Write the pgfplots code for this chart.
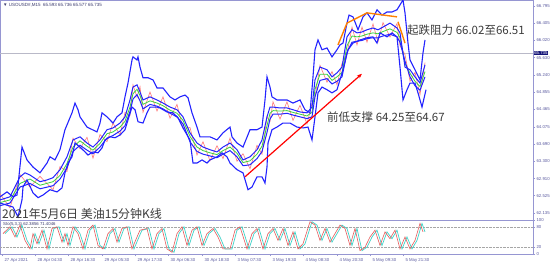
\documentclass[border=0pt]{standalone}
\usepackage{pgfplots}
\pgfplotsset{compat=1.18}
\usepackage{pgfplotstable}
\usepackage{fontspec}
\setmainfont{Liberation Sans}
\newfontfamily\cjk{Noto Sans CJK SC}
\usetikzlibrary{arrows.meta}
\definecolor{lav}{RGB}{150,150,210}
\definecolor{tickc}{RGB}{90,90,160}
\definecolor{bandblue}{RGB}{35,35,255}
\definecolor{magreen}{RGB}{60,210,60}
\definecolor{candle}{RGB}{255,120,120}
\definecolor{stored}{RGB}{230,90,90}
\definecolor{stocyan}{RGB}{60,210,200}
\definecolor{annot}{RGB}{60,60,60}
\definecolor{gline}{RGB}{185,185,200}

\pgfplotstableread{
x p
0 62.50
7 62.61
13 62.50
17 62.54
22 63.62
27 63.33
33 63.17
40 63.04
47 63.26
50 63.40
55 63.33
60 63.56
65 64.01
72 64.39
75 64.61
78 64.46
80 64.30
87 64.07
97 63.96
100 64.16
102 64.39
107 64.30
113 64.16
117 64.30
122 64.39
125 64.75
128 65.06
132 65.58
133 65.65
137 65.58
138 65.65
140 65.42
143 65.18
148 65.18
153 65.13
157 64.95
163 64.95
170 64.75
175 64.68
180 64.75
185 64.79
188 64.73
192 64.39
197 64.07
200 63.85
210 63.85
217 63.78
223 63.94
230 64.07
232 63.85
237 63.71
243 63.62
250 64.01
257 64.01
262 64.07
265 64.68
267 65.20
270 64.97
272 64.75
277 64.68
287 64.68
293 64.61
300 64.68
305 64.46
310 64.39
313 65.20
315 65.81
318 66.03
322 65.81
327 65.85
332 65.65
337 65.81
340 65.92
343 65.96
347 66.41
349 66.59
353 66.55
358 66.26
363 66.55
367 66.64
372 66.48
377 66.71
382 66.59
387 66.66
392 66.66
397 66.71
400 66.82
403 66.93
405 66.64
408 65.96
410 65.58
415 65.36
420 65.13
423 65.74
425 66.03
}\upperband

\pgfplotstableread{
x p
0 62.36
13 62.27
18 62.05
22 62.43
23 62.72
27 62.88
33 62.59
38 62.48
43 62.54
50 62.66
57 62.61
62 62.70
65 63.04
68 63.26
72 63.40
75 63.71
80 63.62
85 63.51
88 63.44
93 63.51
98 63.49
102 63.60
105 63.78
110 63.85
115 63.83
120 63.89
125 64.01
128 64.23
132 64.52
135 64.46
138 64.19
143 64.16
147 64.39
150 64.52
157 64.52
160 64.50
167 64.41
173 64.39
178 64.28
183 64.05
190 63.78
193 63.26
197 63.26
202 63.33
207 63.26
210 63.33
217 63.40
222 63.49
227 63.40
230 63.26
237 63.11
243 63.04
248 62.66
252 62.72
257 62.95
262 62.95
265 62.81
267 63.17
268 63.71
272 64.01
277 64.07
283 64.16
290 64.16
297 64.07
303 64.05
308 64.07
312 63.78
315 64.30
318 64.84
322 64.97
327 64.91
332 64.84
337 64.91
343 65.36
348 65.81
353 65.96
360 66.03
367 66.08
373 66.10
377 65.96
380 66.19
387 66.10
392 66.19
397 66.10
400 65.42
403 64.68
407 64.91
410 65.06
415 65.06
418 64.84
422 64.52
426 64.91
}\lowerband

\pgfplotstableread{
x p
0 62.43
10 62.50
20 62.95
25 63.04
30 62.99
40 62.84
47 62.88
53 62.93
60 63.11
67 63.40
73 63.78
80 63.85
87 63.71
93 63.62
100 63.78
107 64.01
113 64.05
120 64.16
125 64.30
130 64.68
133 64.97
137 65.02
140 64.86
143 64.68
150 64.75
157 64.68
163 64.61
170 64.52
177 64.46
183 64.30
190 63.94
197 63.71
203 63.62
210 63.56
217 63.51
223 63.62
230 63.71
237 63.56
243 63.33
250 63.40
257 63.56
262 63.78
267 64.30
270 64.52
273 64.52
280 64.50
287 64.50
293 64.46
300 64.41
307 64.39
312 64.52
315 65.13
320 65.42
327 65.36
332 65.20
337 65.29
342 65.42
347 66.10
352 66.26
357 66.19
362 66.21
367 66.26
373 66.30
378 66.26
383 66.32
390 66.41
397 66.30
400 66.19
405 65.42
410 65.36
415 65.20
420 65.06
425 65.47
}\innerup

\pgfplotstableread{
x p g c
0 62.30 62.37 62.57
10 62.36 62.43 62.25
20 62.72 62.80 63.00
30 62.80 62.90 62.72
40 62.68 62.76 62.96
53 62.75 62.84 62.66
60 62.90 62.98 63.18
67 63.15 63.25 63.07
73 63.52 63.62 63.82
80 63.66 63.76 63.58
87 63.55 63.64 63.84
93 63.47 63.55 63.37
100 63.62 63.70 63.90
107 63.82 63.92 63.74
113 63.88 63.96 64.16
120 63.98 64.07 63.89
125 64.10 64.20 64.40
130 64.42 64.52 64.34
133 64.70 64.82 65.02
137 64.80 64.92 64.74
140 64.66 64.78 64.98
143 64.48 64.58 64.40
150 64.58 64.66 64.86
157 64.54 64.61 64.43
163 64.48 64.55 64.75
170 64.38 64.45 64.27
177 64.30 64.38 64.58
183 64.14 64.22 64.04
190 63.74 63.86 64.06
197 63.52 63.62 63.44
203 63.46 63.54 63.74
210 63.42 63.49 63.31
217 63.38 63.45 63.65
223 63.46 63.54 63.36
230 63.54 63.62 63.82
237 63.40 63.48 63.30
243 63.20 63.27 63.47
250 63.22 63.31 63.13
257 63.36 63.46 63.66
262 63.52 63.64 63.46
267 63.95 64.10 64.30
270 64.25 64.38 64.20
273 64.36 64.44 64.64
280 64.36 64.43 64.25
287 64.38 64.44 64.64
293 64.34 64.40 64.22
300 64.30 64.36 64.56
307 64.26 64.32 64.14
312 64.30 64.40 64.60
315 64.75 64.92 64.74
320 65.12 65.26 65.46
327 65.16 65.26 65.08
332 65.04 65.12 65.32
337 65.10 65.20 65.02
342 65.20 65.30 65.50
347 65.75 65.90 65.72
352 65.98 66.12 66.32
357 66.00 66.10 65.92
362 66.02 66.12 66.32
367 66.06 66.16 65.98
373 66.08 66.19 66.39
378 66.08 66.17 65.99
383 66.12 66.22 66.42
390 66.16 66.28 66.10
397 66.10 66.20 66.40
400 65.98 66.08 65.90
405 65.55 65.50 65.70
410 65.20 65.28 65.10
415 65.00 65.10 65.30
420 64.90 64.98 64.80
425 65.20 65.32 65.52
}\innerlow

\pgfplotstableread{
x s xc
3 60 5
10 80 12
15 50 17
20 85 22
25 40 27
30 15 32
33 60 35
37 30 39
42 70 44
47 15 49
52 75 54
57 80 59
62 35 64
65 60 67
68 25 70
73 80 75
78 60 80
83 15 85
88 70 90
93 85 95
98 25 100
103 15 105
108 60 110
113 75 115
117 35 119
122 75 124
127 80 129
132 15 134
137 50 139
140 70 142
147 75 149
152 15 154
157 60 159
162 75 164
167 15 169
172 5 174
177 60 179
182 80 184
187 25 189
192 70 194
197 80 199
202 25 204
207 60 209
213 75 215
218 50 220
223 15 225
230 15 232
235 70 237
240 80 242
247 15 249
252 60 254
257 75 259
263 15 265
268 60 270
273 75 275
278 40 280
283 75 285
288 25 290
293 65 295
298 15 300
303 30 305
310 95 312
315 85 317
320 40 322
325 75 327
330 35 332
335 60 337
340 85 342
345 75 347
350 25 352
355 75 357
360 10 362
365 20 367
370 50 372
375 70 377
380 25 382
385 65 387
390 45 392
395 70 397
400 15 402
405 50 407
410 15 412
415 40 417
420 90 422
423 65 425
}\stoch

\begin{document}
\begin{tikzpicture}[x=1pt,y=1pt]
\path[use as bounding box, fill=white] (0,0) rectangle (554,265);

\begin{axis}[
  at={(0pt,45pt)}, anchor=south west,
  scale only axis, width=533pt, height=220pt,
  xmin=0, xmax=533, ymin=61.978, ymax=66.93,
  axis line style={lav, line width=0.8pt},
  xtick=\empty,
  ytick={62.135,62.525,62.910,63.300,63.690,64.075,64.465,64.855,65.240,65.630,66.020,66.405,66.795},
  yticklabels={62.135,62.525,62.910,63.300,63.690,64.075,64.465,64.855,65.240,65.630,66.020,66.405,66.795},
  yticklabel pos=right,
  ytick align=outside, ytick pos=right,
  major tick length=2pt,
  tick style={lav, line width=0.5pt},
  yticklabel style={font=\fontsize{4.3}{5}\selectfont, text=tickc, xshift=-2pt},
  clip=true,
]
\addplot[gline, line width=0.6pt] coordinates {(0,65.735) (533,65.735)};
\addplot[candle, line width=0.6pt] table[x=x, y=c] {\innerlow};
\addplot[magreen, line width=0.8pt] table[x=x, y=g] {\innerlow};
\addplot[bandblue, line width=1pt] table[x=x, y=p] {\innerlow};
\addplot[bandblue, line width=1pt] table[x=x, y=p] {\innerup};
\addplot[bandblue, line width=1.1pt] table[x=x, y=p] {\upperband};
\addplot[bandblue, line width=1.1pt] table[x=x, y=p] {\lowerband};
\addplot[orange, line width=1.4pt] coordinates {(338,65.92) (347,66.41) (367,66.64) (397,66.55)};
\addplot[orange, line width=1.4pt] coordinates {(398,66.44) (405,65.96)};
\addplot[red, line width=1.2pt, -{Stealth[length=5pt,width=4pt]}] coordinates {(245,62.95) (362,65.27)};
\end{axis}

\begin{axis}[
  at={(0pt,11pt)}, anchor=south west,
  scale only axis, width=533pt, height=34pt,
  xmin=0, xmax=533, ymin=0, ymax=100,
  axis line style={lav, line width=0.8pt},
  ytick={0,20,80,100},
  yticklabels={0,20,80,100},
  yticklabel pos=right, ytick pos=right,
  xtick={2,35,68,102,135,168,202,235,270,303,337,370,403},
  xticklabels={27 Apr 2021,28 Apr 04:30,28 Apr 16:30,29 Apr 05:30,29 Apr 17:30,30 Apr 06:30,30 Apr 18:30,3 May 07:30,3 May 19:30,4 May 08:30,4 May 20:30,5 May 09:30,5 May 21:30},
  xtick pos=bottom, tick align=outside,
  major tick length=2pt,
  tick style={lav, line width=0.5pt},
  xticklabel style={font=\fontsize{4.3}{5}\selectfont, text=tickc, anchor=north west, xshift=-1pt, yshift=1pt},
  yticklabel style={font=\fontsize{4.3}{5}\selectfont, text=tickc, xshift=-2pt},
  clip=true,
]
\addplot[gray!70, densely dotted, line width=0.4pt] coordinates {(0,80) (533,80)};
\addplot[gray!70, densely dotted, line width=0.4pt] coordinates {(0,20) (533,20)};
\addplot[stocyan, line width=0.7pt] table[x=xc, y=s] {\stoch};
\addplot[stored, line width=0.6pt] table[x=x, y=s] {\stoch};
\end{axis}

% price marker box
\node[fill={rgb,255:red,20;green,20;blue,120}, text=white, inner sep=0.6pt, anchor=west,
  font=\fontsize{4.3}{5}\selectfont] at (533.5,212) {65.735};

% texts
\node[anchor=west, inner sep=0pt, font=\fontsize{4.5}{5}\selectfont, text={rgb,255:red,60;green,60;blue,110}] at (3,260) {▼ USOUSD\#,M15\ \ 65.593 65.736 65.577 65.735};
\node[anchor=west, inner sep=0pt, font=\fontsize{4.3}{5}\selectfont, text={rgb,255:red,60;green,60;blue,110}] at (3,41) {Sto(5,3,3) 62.3856 71.4046};
\node[anchor=west, inner sep=0pt, text=annot, font=\cjk\fontsize{12}{14}\selectfont] at (2,51) {2021年5月6日 美油15分钟K线};
\node[anchor=west, inner sep=0pt, text=annot, font=\cjk\fontsize{11.5}{13}\selectfont] at (407,235) {起跌阻力 66.02至66.51};
\node[anchor=west, inner sep=0pt, text=annot, font=\cjk\fontsize{11.5}{13}\selectfont] at (327,148) {前低支撑 64.25至64.67};
\end{tikzpicture}
\end{document}
